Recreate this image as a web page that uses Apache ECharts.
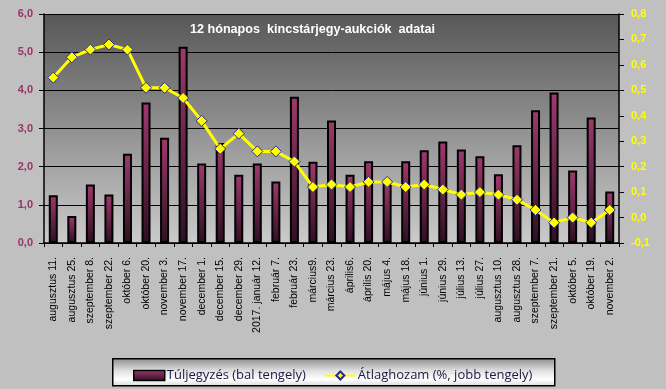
<!DOCTYPE html>
<html>
<head>
<meta charset="utf-8">
<script src="https://cdn.jsdelivr.net/npm/echarts@6/dist/echarts.min.js"></script>
<style>
html,body{margin:0;padding:0;background:#c0c0c0;}
#c{width:666px;height:389px;}
</style>
</head>
<body>
<div id="c"></div>
<script>
var categories = ["augusztus 11.","augusztus 25.","szeptember 8.","szeptember 22.","október 6.","október 20.","november 3.","november 17.","december 1.","december 15.","december 29.","2017. január 12.","február 7.","február 23.","március9.","március 23.","április6.","április 20.","május 4.","május 18.","június 1.","június 29.","július 13.","július 27.","augusztus 10.","augusztus 28.","szeptember 7.","szeptember 21.","október 5.","október 19.","november 2."];
var tuljegyzes = [1.25,0.71,1.53,1.27,2.34,3.68,2.76,5.14,2.08,2.62,1.79,2.08,1.61,3.83,2.13,3.21,1.79,2.14,1.63,2.14,2.43,2.66,2.45,2.27,1.8,2.56,3.48,3.94,1.9,3.29,1.35];
var atlaghozam = [0.55,0.63,0.66,0.68,0.66,0.51,0.51,0.47,0.38,0.27,0.33,0.26,0.26,0.22,0.12,0.13,0.12,0.14,0.14,0.12,0.13,0.11,0.09,0.10,0.09,0.07,0.03,-0.02,0.00,-0.02,0.03];
var leftTicks = {min:0, max:6, interval:1};
var rightTicks = {min:-0.1, max:0.8, interval:0.1};

var chart = echarts.init(document.getElementById('c'));
function fmt(v){ return (Math.round(v*10)/10).toFixed(1).replace('.', ','); }
var barGrad = new echarts.graphic.LinearGradient(0,0,0,1,[{offset:0,color:'#a0396d'},{offset:1,color:'#2e0f22'}]);
chart.setOption({
  backgroundColor:'#c0c0c0',
  animation:false,
  title:{text:'12 hónapos  kincstárjegy-aukciók  adatai', left:185, top:18,
    textStyle:{color:'#ffffff', fontFamily:'Liberation Sans', fontWeight:'bold', fontSize:12.6}},
  graphic:[{type:'rect', left:112, top:358, shape:{width:442, height:27}, z:0,
    style:{fill:new echarts.graphic.LinearGradient(0,0,0,1,[{offset:0,color:'#8c8c8c'},{offset:0.45,color:'#e0e0e0'},{offset:0.75,color:'#ffffff'},{offset:1,color:'#d8d8d8'}]), stroke:'#000', lineWidth:1.5}}],
  legend:{left:128, top:364, itemGap:18, itemWidth:31, itemHeight:10, z:5,
    textStyle:{color:'#1a1a40', fontFamily:'Open Sans', fontSize:13, padding:[0,0,0,-3]},
    data:[{name:'Túljegyzés (bal tengely)', icon:'rect', itemStyle:{color:barGrad, borderColor:'#000', borderWidth:1.5}},
          {name:'Átlaghozam (%, jobb tengely)'}]},
  grid:{left:44, right:47, top:14, bottom:146, show:true, borderWidth:0,
    backgroundColor:new echarts.graphic.LinearGradient(0,0,0,1,[{offset:0,color:'#575757'},{offset:1,color:'#cbcbcb'}])},
  xAxis:{type:'category', data:categories, boundaryGap:true,
    axisLine:{lineStyle:{color:'#000', width:1.5}},
    axisTick:{show:true, interval:0, length:4, lineStyle:{color:'#000'}},
    axisLabel:{interval:0, rotate:90, margin:14, color:'#000', fontFamily:'Liberation Sans', fontSize:10.5}},
  yAxis:[{type:'value', min:leftTicks.min, max:leftTicks.max, interval:leftTicks.interval, position:'left',
      axisLine:{show:true, lineStyle:{color:'#000', width:1.5}},
      axisTick:{show:true, length:5, lineStyle:{color:'#000'}},
      splitLine:{show:true, lineStyle:{color:'#000', width:1}},
      axisLabel:{formatter:fmt, color:'#993366', fontFamily:'Liberation Sans', fontWeight:'bold', fontSize:11, margin:11}},
    {type:'value', min:rightTicks.min, max:rightTicks.max, interval:rightTicks.interval, position:'right',
      axisLine:{show:true, lineStyle:{color:'#000', width:1.5}},
      axisTick:{show:true, length:5, lineStyle:{color:'#000'}},
      splitLine:{show:false},
      axisLabel:{formatter:fmt, color:'#ffff00', fontFamily:'Liberation Sans', fontWeight:'bold', fontSize:11, margin:12}}],
  series:[
    {name:'Túljegyzés (bal tengely)', type:'bar', yAxisIndex:0, data:tuljegyzes, barWidth:9,
      itemStyle:{color:barGrad, borderColor:'#000', borderWidth:2}},
    {name:'Átlaghozam (%, jobb tengely)', type:'line', yAxisIndex:1, data:atlaghozam,
      lineStyle:{color:'#ffff00', width:3}, symbol:'diamond', symbolSize:11,
      itemStyle:{color:'#ffff00', borderColor:'#2a2a8a', borderWidth:1}}
  ]
});
</script>
</body>
</html>
